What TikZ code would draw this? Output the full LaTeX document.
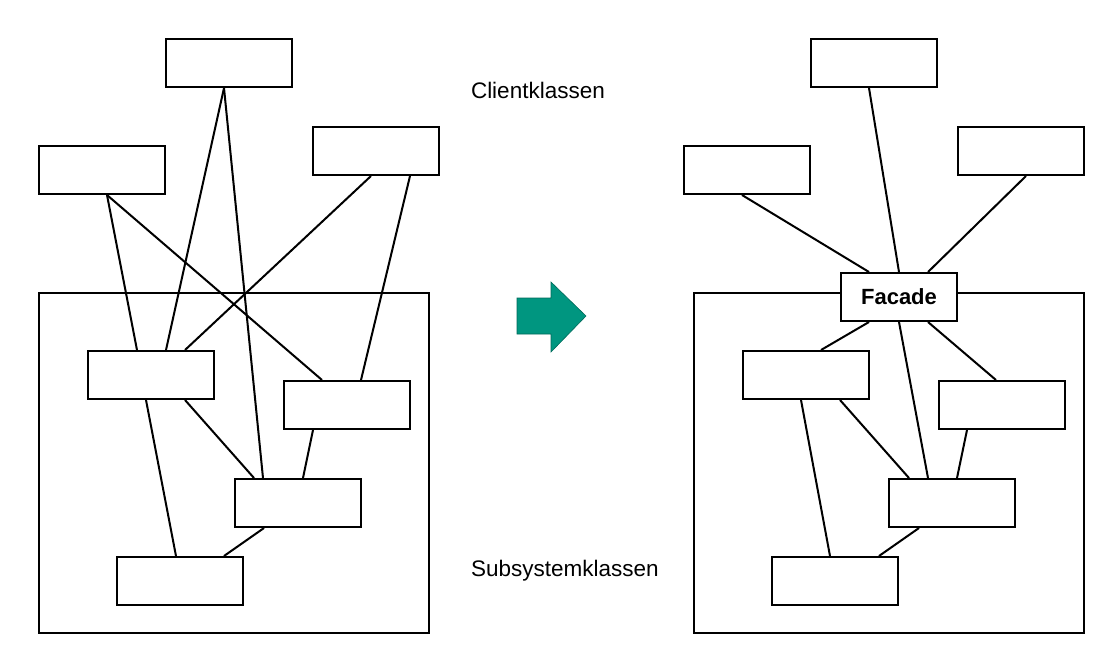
\documentclass[tikz,border=0pt]{standalone}
\usepackage{fontspec}
\setmainfont{Liberation Sans}
\usetikzlibrary{calc}
\definecolor{arrowgreen}{RGB}{0,150,128}

\begin{document}
\begin{tikzpicture}[x=1pt, y=-1pt, line width=2pt,
    cls/.style={draw, fill=white, minimum width=126pt, minimum height=48pt, inner sep=0pt},
    facade/.style={draw, fill=white, minimum width=116pt, minimum height=48pt, inner sep=0pt,
        font=\fontsize{22}{26}\selectfont\bfseries},
    lbl/.style={anchor=base west, inner sep=0pt, font=\fontsize{22.5}{26}\selectfont}]
    \useasboundingbox (0,0) rectangle (1108,646);

    % Before: every client talks to the subsystem classes
    \draw (39,293) rectangle (429,633);
    \node[cls] (ct) at (229,63) {};
    \node[cls] (cl) at (102,170) {};
    \node[cls] (cr) at (376,151) {};
    \node[cls] (sa) at (151,375) {};
    \node[cls] (sb) at (347,405) {};
    \node[cls] (sc) at (298,503) {};
    \node[cls] (sd) at (180,581) {};

    \draw ([xshift=-5pt]ct.south) -- ([xshift=15pt]sa.north);
    \draw ([xshift=-5pt]ct.south) -- ([xshift=-35pt]sc.north);
    \draw ([xshift=5pt]cl.south) -- ([xshift=-14pt]sa.north);
    \draw ([xshift=5pt]cl.south) -- ([xshift=-25pt]sb.north);
    \draw ([xshift=-5pt]cr.south) -- ([xshift=34pt]sa.north);
    \draw ([xshift=34pt]cr.south) -- ([xshift=14pt]sb.north);
    \draw ([xshift=-5pt]sa.south) -- ([xshift=-4pt]sd.north);
    \draw ([xshift=34pt]sa.south) -- ([xshift=-44pt]sc.north);
    \draw ([xshift=-34pt]sb.south) -- ([xshift=5pt]sc.north);
    \draw ([xshift=-34pt]sc.south) -- ([xshift=44pt]sd.north);

    % Labels
    \node[lbl] (client) at (470,98) {Clientklassen};
    \node[lbl] (subsys) at (470,576) {Subsystemklassen};

    % Arrow
    \draw[fill=arrowgreen, draw=arrowgreen!70!black, line width=0.6pt]
        (517,298) -- (551,298) -- (551,282) -- (586,316) -- (551,352)
        -- (551,334) -- (517,334) -- cycle;

    % After: clients only see the facade
    \draw (694,293) rectangle (1084,633);
    \node[cls] (ft) at (874,63) {};
    \node[cls] (fl) at (747,170) {};
    \node[cls] (fr) at (1021,151) {};
    \node[facade] (fac) at (899,297) {Facade};
    \node[cls] (fa) at (806,375) {};
    \node[cls] (fb) at (1002,405) {};
    \node[cls] (fc) at (952,503) {};
    \node[cls] (fd) at (835,581) {};

    \draw ([xshift=-5pt]ft.south) -- (fac.north);
    \draw ([xshift=-5pt]fl.south) -- ([xshift=-30pt]fac.north);
    \draw ([xshift=5pt]fr.south) -- ([xshift=29pt]fac.north);
    \draw ([xshift=-30pt]fac.south) -- ([xshift=15pt]fa.north);
    \draw (fac.south) -- ([xshift=-24pt]fc.north);
    \draw ([xshift=29pt]fac.south) -- ([xshift=-6pt]fb.north);
    \draw ([xshift=-5pt]fa.south) -- ([xshift=-5pt]fd.north);
    \draw ([xshift=34pt]fa.south) -- ([xshift=-43pt]fc.north);
    \draw ([xshift=-35pt]fb.south) -- ([xshift=5pt]fc.north);
    \draw ([xshift=-33pt]fc.south) -- ([xshift=44pt]fd.north);
\end{tikzpicture}
\end{document}
